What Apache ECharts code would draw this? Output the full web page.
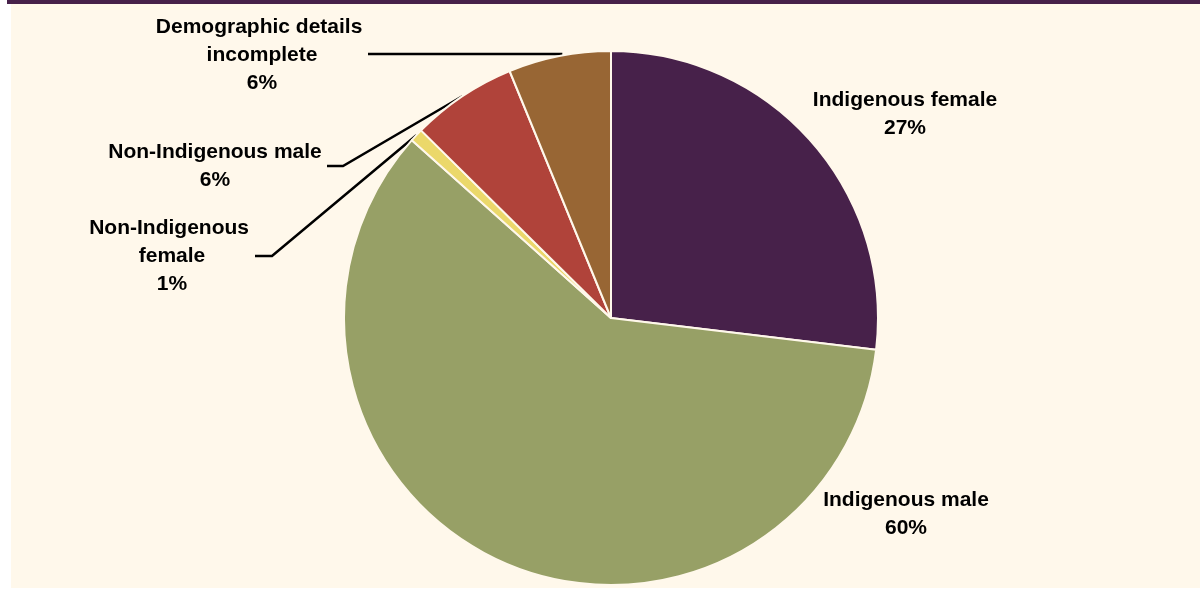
<!DOCTYPE html>
<html>
<head>
<meta charset="utf-8">
<script src="https://cdn.jsdelivr.net/npm/echarts@6/dist/echarts.min.js"></script>
<style>
html,body{margin:0;padding:0;background:#ffffff;}
#chart{width:1200px;height:589px;}
</style>
</head>
<body>
<div id="chart"></div>
<script>
// ---- data ----
const categories = ['Indigenous female', 'Indigenous male', 'Non-Indigenous female', 'Non-Indigenous male', 'Demographic details incomplete'];
const shares = [26.9, 59.7, 0.8, 6.4, 6.2];
const colors = ['#47214A', '#97A066', '#EBD86A', '#B0433A', '#986634'];

// ---- label layout (positions, not data) ----
const labelCenters = [[905, 114], [906, 514], [172, 256], [215, 166], [262, 55]];
const labelWraps = [260, 260, 170, 260, 215];
const lineEnds = [null, null, [[272, 256], [255, 256]], [[343, 166], [327, 166]], [[400, 54], [368, 54]]];
const flatLine = [false, false, false, false, true];

const chart = echarts.init(document.getElementById('chart'), null, {renderer: 'canvas'});
chart.setOption({
  backgroundColor: '#ffffff',
  animation: false,
  graphic: [
    {type: 'rect', z: -10, shape: {x: 11, y: 4, width: 1189, height: 584}, style: {fill: '#FFF8EB'}},
    {type: 'rect', z: -9, shape: {x: 7, y: 0, width: 1193, height: 4}, style: {fill: '#47214A'}}
  ],
  series: [{
    type: 'pie',
    center: [611, 318],
    radius: [0, 267],
    startAngle: 90,
    clockwise: true,
    percentPrecision: 0,
    avoidLabelOverlap: false,
    itemStyle: {borderColor: '#FFF8EB', borderWidth: 2},
    label: {
      show: true,
      position: 'outside',
      formatter: '{b}\n{d}%',
      color: '#000000',
      fontFamily: 'Liberation Sans, Arial, sans-serif',
      fontWeight: 'bold',
      fontSize: 21,
      lineHeight: 28,
      align: 'center',
      overflow: 'break'
    },
    labelLine: {show: true, lineStyle: {color: '#000000', width: 2.5}},
    labelLayout: function (p) {
      const i = p.dataIndex;
      const c = labelCenters[i];
      const res = {x: c[0], y: c[1], align: 'center', verticalAlign: 'middle'};
      if (lineEnds[i] && p.labelLinePoints) {
        const p0 = p.labelLinePoints[0];
        const start = flatLine[i] ? [p0[0] + 3, lineEnds[i][0][1]] : p0;
        res.labelLinePoints = [start, lineEnds[i][0], lineEnds[i][1]];
      }
      return res;
    },
    emphasis: {disabled: true},
    data: categories.map((name, i) => ({
      name: name,
      value: shares[i],
      itemStyle: {color: colors[i]},
      label: {width: labelWraps[i]},
      labelLine: {show: lineEnds[i] !== null}
    }))
  }]
});
</script>
</body>
</html>
